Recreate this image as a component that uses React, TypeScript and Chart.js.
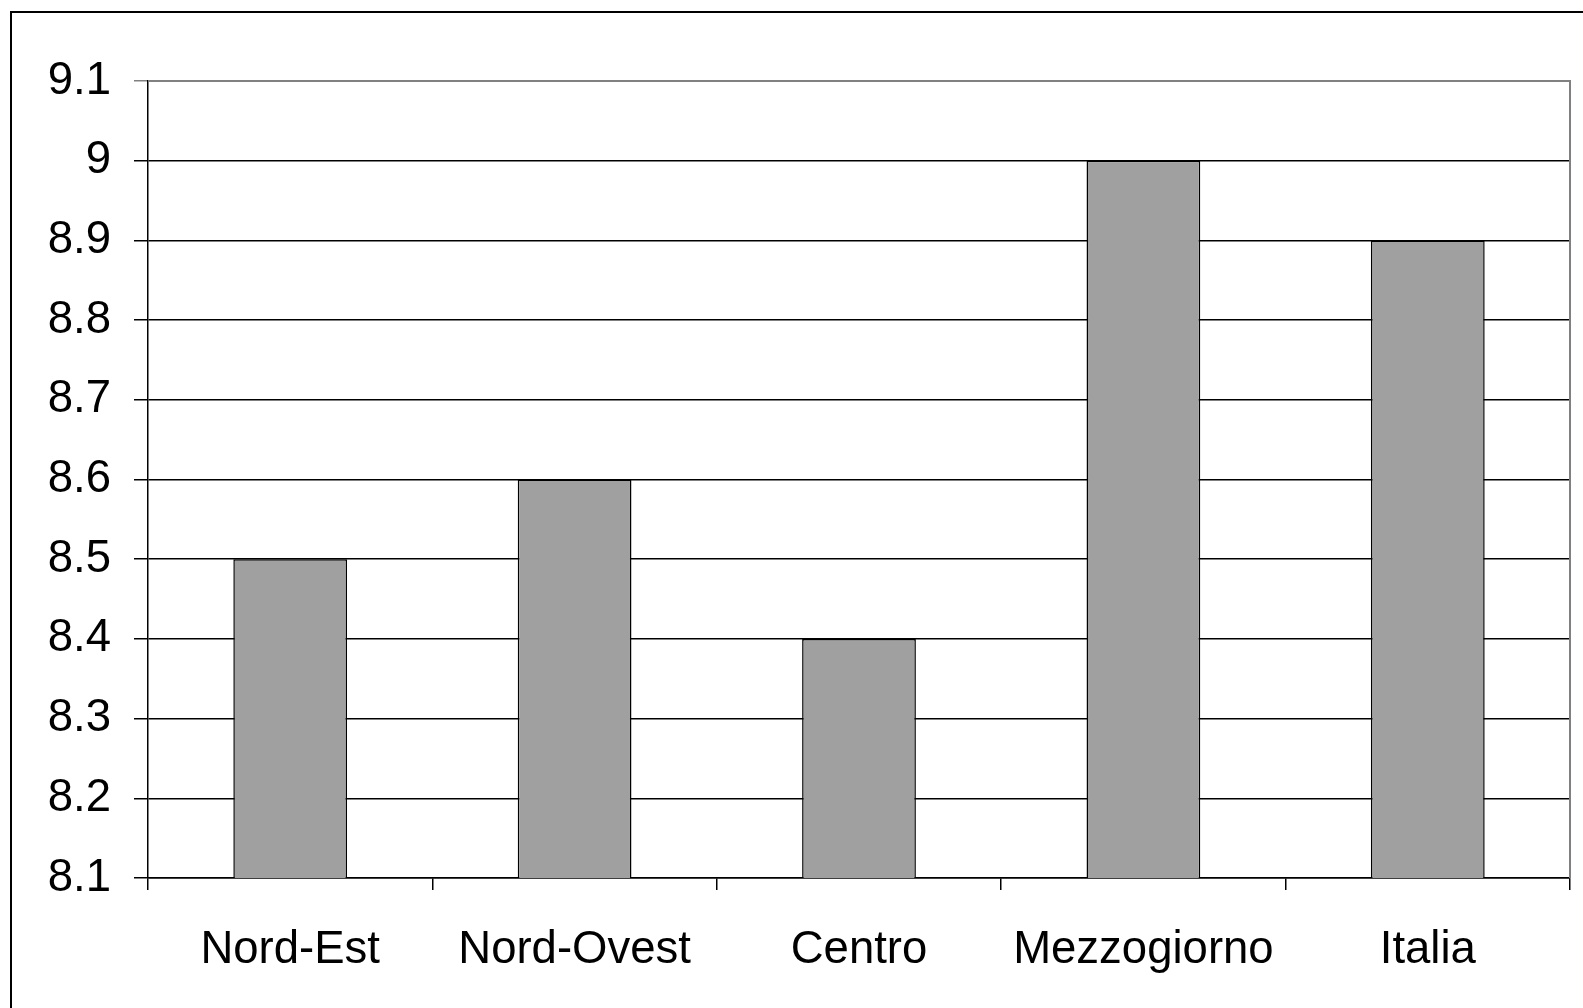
import React, { useEffect, useRef } from "react";
import { Chart, registerables } from "chart.js";

Chart.register(...registerables);

const categories = ["Nord-Est", "Nord-Ovest", "Centro", "Mezzogiorno", "Italia"];
const values = [8.5, 8.6, 8.4, 9.0, 8.9];
const yMin = 8.1;
const yMax = 9.1;
const yStep = 0.1;

const FONT = "'Liberation Sans', Arial, sans-serif";

const frameBorder = {
  id: "frameBorder",
  afterDatasetsDraw(chart: any) {
    const { ctx, chartArea } = chart;
    ctx.save();
    ctx.strokeStyle = "#808080";
    ctx.lineWidth = 2;
    ctx.beginPath();
    ctx.moveTo(chartArea.left, chartArea.top);
    ctx.lineTo(chartArea.right, chartArea.top);
    ctx.lineTo(chartArea.right, chartArea.bottom);
    ctx.stroke();
    ctx.restore();
  },
};

export default function App() {
  const ref = useRef<HTMLCanvasElement | null>(null);
  useEffect(() => {
    if (!ref.current) return;
    const chart = new Chart(ref.current, {
      type: "bar",
      data: {
        labels: categories,
        datasets: [
          {
            data: values,
            backgroundColor: "#A0A0A0",
            borderColor: "#000000",
            borderWidth: 1.5,
            categoryPercentage: 0.8,
            barPercentage: 0.5,
          },
        ],
      },
      options: {
        responsive: false,
        animation: false,
        layout: { padding: { top: 81, right: 13, left: 0, bottom: 0 } },
        plugins: { legend: { display: false }, tooltip: { enabled: false } },
        scales: {
          x: {
            grid: {
              drawOnChartArea: false,
              drawTicks: true,
              tickLength: 12,
              color: "#000000",
              lineWidth: 1.5,
              offset: true,
            },
            border: { color: "#000000", width: 1.5 },
            ticks: {
              color: "#000000",
              font: { family: FONT, size: 45.5 },
              padding: 33,
              maxRotation: 0,
            },
            afterFit(scale: any) {
              scale.height = 130;
            },
          },
          y: {
            min: yMin,
            max: yMax,
            grid: {
              color: (c: any) => (c.index === 10 ? "#808080" : "#000000"),
              lineWidth: 1.5,
              tickLength: 14,
              drawTicks: true,
            },
            border: { color: "#000000", width: 1.5 },
            ticks: {
              stepSize: yStep,
              color: "#000000",
              font: { family: FONT, size: 45.5 },
              padding: 23,
              callback: (v: any) => String(Math.round(Number(v) * 10) / 10),
            },
            afterFit(scale: any) {
              scale.width = 148;
            },
          },
        },
      },
      plugins: [frameBorder],
    });
    return () => chart.destroy();
  }, []);
  return (
    <div style={{ position: "fixed", left: 0, top: 0, width: 1583, height: 1008, background: "#fff", overflow: "hidden" }}>
      <canvas ref={ref} width={1583} height={1008} style={{ position: "absolute", left: 0, top: 0 }} />
      <div
        style={{
          position: "absolute",
          left: 10,
          top: 11,
          width: 1600,
          height: 1100,
          borderLeft: "2px solid #000",
          borderTop: "2px solid #000",
          pointerEvents: "none",
        }}
      />
    </div>
  );
}
